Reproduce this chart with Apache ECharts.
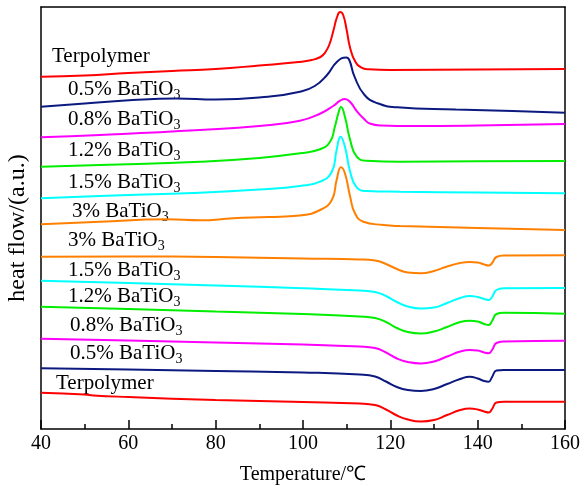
<!DOCTYPE html>
<html>
<head>
<meta charset="utf-8">
<script src="https://cdn.jsdelivr.net/npm/echarts@6/dist/echarts.min.js"></script>
<style>
  html, body { margin: 0; padding: 0; background: #fff; }
  #chart { width: 584px; height: 486px; }
</style>
</head>
<body>
<div id="chart"></div>
<script>
// DSC traces, heat flow in arbitrary units (curves stacked with offsets).
// Each list holds [temperature (°C), heat flow (a.u.)] pairs.

// Cooling runs (crystallisation exotherms near 108-110 °C)
const coolTerpolymer = [[40,352.3],[50,353.5],[60,356],[70,358],[80,360],[90,363.5],[99,367],[102,369],[104,372],[105,376],[106,384],[107,399],[107.8,412],[108.5,417],[109.2,414],[110,399],[110.8,381],[111.9,368],[113.4,361.3],[115,359.7],[120,359],[140,359.5],[160,360]];
const cool05 = [[40,322.3],[50,325.5],[61,329],[71,330.5],[80,329.5],[92,332.3],[99.3,337.3],[102.7,343],[105.5,354],[107.8,367.3],[109.9,371.5],[110.6,369],[111.8,352.3],[114.1,334],[117.1,325.7],[121.6,321.7],[135,319.5],[148,318],[160,316.3]];
const cool08 = [[40,291.7],[53.5,294],[76.4,299],[90,303],[99.3,308.3],[104,315.5],[106.9,323],[108.5,328.3],[109.6,330],[110.8,327],[112.3,318],[114,310],[115.3,305.5],[118,303.5],[125,303],[140,303.5],[160,305]];
const cool12 = [[40,262.3],[53.5,264],[76.4,267.3],[90,271],[99.3,275.7],[103.9,279.7],[106.2,287.3],[107.3,302.3],[108.1,315.7],[108.7,322],[109.6,312.3],[110.8,289],[112.3,272.3],[114.6,268.3],[122.2,267.3],[140,267.7],[160,268]];
const cool15 = [[40,230.7],[53.5,233],[76.4,236.3],[90,239.5],[99.3,243],[103.9,247.3],[106.6,257.3],[107.7,279],[108.6,292.3],[109.6,282.3],[110.8,257.3],[112.3,241.7],[114.6,238],[122.2,237.3],[140,236.5],[160,235.7]];
const cool3 = [[40,204.7],[53.5,207.3],[68.8,209.7],[76.4,208.7],[84,210.7],[92,212],[99.3,213.5],[103.9,219],[106.6,229],[107.7,249],[108.7,261.7],[109.6,255.7],[110.8,232.3],[111.9,215.7],[113.8,207.3],[118.4,204],[122.2,203],[140,201],[160,199]];

// Heating runs (melting endotherms near 127 °C and 142 °C)
const heatTemps = [40,60,80,100,113,116.5,119,121.5,124,127,130,133,136,138.2,140,141.5,142.5,143.3,144.3,146,160];
const heat3  = [172.3,172.5,172,170.5,169.5,168.5,165,160,156.5,155.7,158,162.5,166,167,166.5,164.5,163.5,166,172,173.5,173.7];
const heat15 = [148.3,146,143.5,140.7,138.5,137,133,127,122.5,120.5,121.5,126,131,133,132,130,129,132,139,140.7,141];
const heat12 = [122.3,120,117.5,115,112.5,111,107,101,97,95.5,97.5,102,107,108.3,107.5,105,104,108,115,116.3,115.3];
const heat08 = [90.3,88.5,86.5,84.5,82.5,81,76.5,70.5,67,65.5,67.5,72.5,77.5,79,78.5,76.5,75.7,79,86,87.5,88.3];
const heat05 = [60.7,59.5,58,56.5,54.5,52.5,47.5,42,39,38,40,45,50,52.3,50.5,48,47.3,52,58.5,59,59];
const heatTerpolymerTemps = [40,50,52,60,80,100,113,116.5,119,121.5,124,127,130,133,136,138.2,140,141.5,142.5,143.3,144.3,146,160];
const heatTerpolymer = [36.3,34.5,33.5,32,29,27,25.5,24,19.5,13.5,9.5,7.5,9,14,19,20.5,19.5,17.5,16.5,20,26.5,27.3,27.3];

// Curve labels: [text, subscript]
const coolLabels = [['Terpolymer',''],['0.5% BaTiO','3'],['0.8% BaTiO','3'],['1.2% BaTiO','3'],['1.5% BaTiO','3'],['3% BaTiO','3']];
const heatLabels = [['3% BaTiO','3'],['1.5% BaTiO','3'],['1.2% BaTiO','3'],['0.8% BaTiO','3'],['0.5% BaTiO','3'],['Terpolymer','']];

const xTicks = [40, 60, 80, 100, 120, 140, 160];

const COLORS = {
  red: '#ff0000', navy: '#0c1a80', magenta: '#ff00ff',
  green: '#00ee00', cyan: '#00ffff', orange: '#ff8000'
};
const FONT = "'Liberation Serif', 'Times New Roman', serif";

function zip(ts, vs) { return ts.map((t, i) => [t, vs[i]]); }

const curves = [
  { data: coolTerpolymer, color: COLORS.red },
  { data: cool05, color: COLORS.navy },
  { data: cool08, color: COLORS.magenta },
  { data: cool12, color: COLORS.green },
  { data: cool15, color: COLORS.cyan },
  { data: cool3, color: COLORS.orange },
  { data: zip(heatTemps, heat3), color: COLORS.orange },
  { data: zip(heatTemps, heat15), color: COLORS.cyan },
  { data: zip(heatTemps, heat12), color: COLORS.green },
  { data: zip(heatTemps, heat08), color: COLORS.magenta },
  { data: zip(heatTemps, heat05), color: COLORS.navy },
  { data: zip(heatTerpolymerTemps, heatTerpolymer), color: COLORS.red }
];

const chart = echarts.init(document.getElementById('chart'), null, { renderer: 'canvas' });

// label anchor positions (pixel) for the curve names
const coolLabelPos = [[52, 59], [68, 92], [68, 122], [68, 153], [68, 185], [72, 214]];
const heatLabelPos = [[68, 243], [68, 273], [68, 299], [70, 328], [70, 356], [56, 386]];

function labelGraphic(lbl, pos) {
  const txt = lbl[1] ? '{n|' + lbl[0] + '}{s|' + lbl[1] + '}' : '{n|' + lbl[0] + '}';
  return {
    type: 'text', left: pos[0], top: pos[1] - 13, silent: true,
    style: {
      text: txt,
      rich: {
        n: { fontFamily: FONT, fontSize: 21, lineHeight: 26, fill: '#000', verticalAlign: 'middle' },
        s: { fontFamily: FONT, fontSize: 14, lineHeight: 14, fill: '#000', verticalAlign: 'bottom' }
      }
    }
  };
}

const graphics = [];
coolLabels.forEach((l, i) => graphics.push(labelGraphic(l, coolLabelPos[i])));
heatLabels.forEach((l, i) => graphics.push(labelGraphic(l, heatLabelPos[i])));
graphics.push({
  type: 'text', x: 18, y: 228, rotation: Math.PI / 2, silent: true,
  style: { text: 'heat flow/(a.u.)', fontFamily: FONT, fontSize: 24, fill: '#000', align: 'center', verticalAlign: 'middle' }
});

chart.setOption({
  animation: false,
  backgroundColor: '#ffffff',
  grid: { left: 41, right: 19, top: 7, bottom: 57, containLabel: false, outerBoundsMode: 'none' },
  xAxis: [{
    type: 'value', min: xTicks[0], max: xTicks[xTicks.length - 1], interval: 20,
    position: 'bottom',
    axisLine: { show: true, onZero: false, lineStyle: { color: '#000', width: 1.5 } },
    axisTick: { show: true, inside: true, length: 9, lineStyle: { color: '#000', width: 1.5 } },
    minorTick: { show: true, splitNumber: 2, length: 5, lineStyle: { color: '#000', width: 1.5 } },
    splitLine: { show: false },
    axisLabel: { margin: 5, color: '#000', fontFamily: FONT, fontSize: 20 },
    name: 'Temperature/℃', nameLocation: 'middle', nameGap: 36,
    nameTextStyle: { color: '#000', fontFamily: FONT, fontSize: 20 }
  }, {
    type: 'value', min: xTicks[0], max: xTicks[xTicks.length - 1], position: 'top',
    axisLine: { show: true, onZero: false, lineStyle: { color: '#000', width: 1.5 } },
    axisTick: { show: false }, axisLabel: { show: false }, splitLine: { show: false }
  }],
  yAxis: [{
    type: 'value', min: 0, max: 422, position: 'left',
    axisLine: { show: true, onZero: false, lineStyle: { color: '#000', width: 1.5 } },
    axisTick: { show: false }, axisLabel: { show: false }, splitLine: { show: false }
  }, {
    type: 'value', min: 0, max: 422, position: 'right',
    axisLine: { show: true, onZero: false, lineStyle: { color: '#000', width: 1.5 } },
    axisTick: { show: false }, axisLabel: { show: false }, splitLine: { show: false }
  }],
  series: curves.map(c => ({
    type: 'line', data: c.data, xAxisIndex: 0, yAxisIndex: 0,
    showSymbol: false, symbol: 'none', smooth: 0.5,
    lineStyle: { color: c.color, width: 2 }, silent: true
  })),
  graphic: graphics
});
</script>
</body>
</html>
